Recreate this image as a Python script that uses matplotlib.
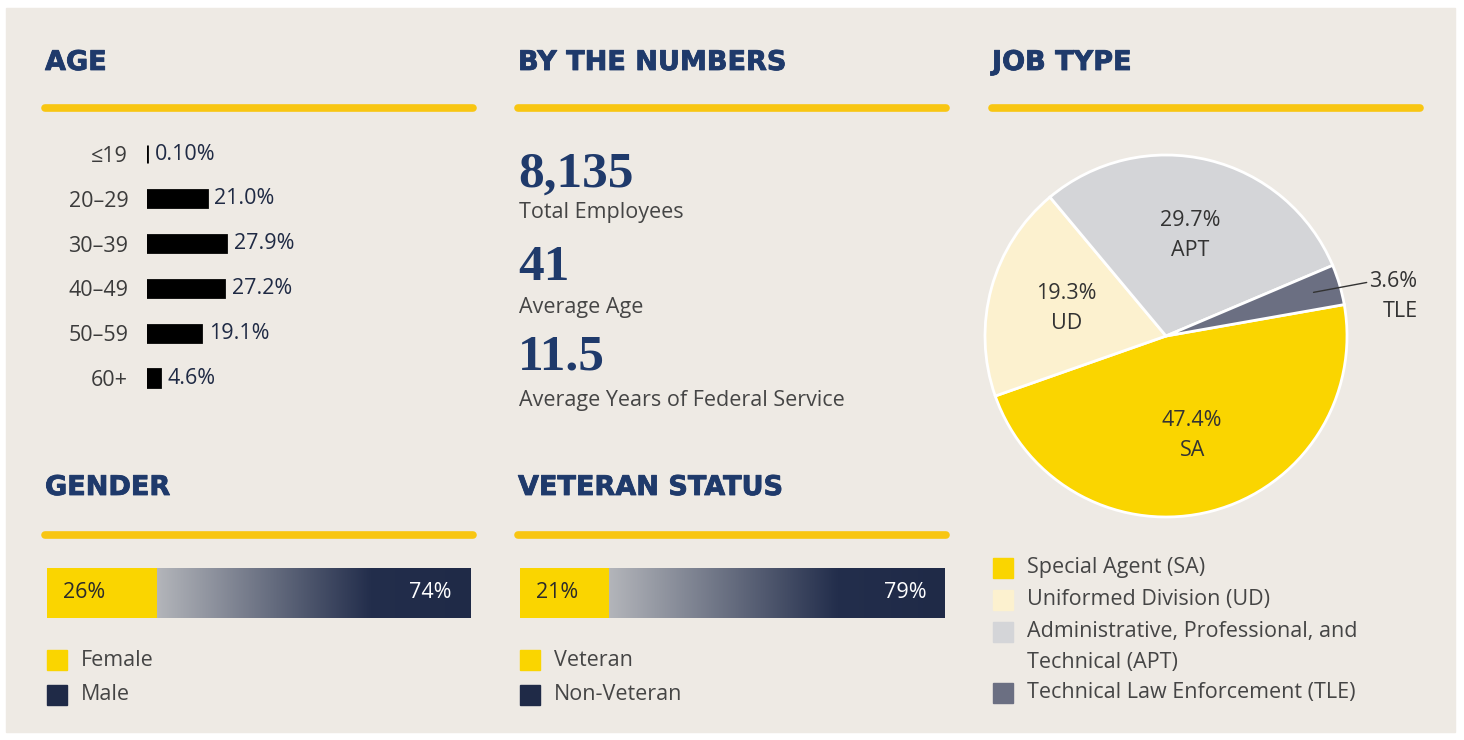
import matplotlib.pyplot as plt
import matplotlib.patheffects as pe
import numpy as np
from matplotlib.colors import LinearSegmentedColormap
from matplotlib.patches import Rectangle

W, H = 1464, 740

# data
age_groups = ["≤19", "20–29", "30–39", "40–49", "50–59", "60+"]
age_share = [0.10, 21.0, 27.9, 27.2, 19.1, 4.6]
age_labels = ["0.10%", "21.0%", "27.9%", "27.2%", "19.1%", "4.6%"]

stat_values = ["8,135", "41", "11.5"]
stat_names = ["Total Employees", "Average Age", "Average Years of Federal Service"]

gender_names = ["Female", "Male"]
gender_share = [26, 74]
veteran_names = ["Veteran", "Non-Veteran"]
veteran_share = [21, 79]

job_codes = ["SA", "UD", "APT", "TLE"]
job_names = ["Special Agent (SA)", "Uniformed Division (UD)",
             "Administrative, Professional, and\nTechnical (APT)",
             "Technical Law Enforcement (TLE)"]
job_share = [47.4, 19.3, 29.7, 3.6]

# colours
PANEL = "#EEEAE4"
NAVY = "#1F3A6B"
RULE = "#F8C612"
YELLOW = "#FAD500"
DARK = "#1F2A47"
GREY_TXT = "#454545"
job_colors = ["#FAD500", "#FCF1CF", "#D4D5D8", "#6B6F82"]

BODY = ["Open Sans", "DejaVu Sans"]
HEAD = "DejaVu Sans"
FS = 15.5

plt.rcParams["font.family"] = BODY

fig = plt.figure(figsize=(W / 100, H / 100), dpi=100, facecolor="white")


def px_axes(x0, y0, x1, y1):
    return fig.add_axes([x0 / W, 1 - y1 / H, (x1 - x0) / W, (y1 - y0) / H])


bg = fig.add_axes([0, 0, 1, 1])
bg.set_xlim(0, W)
bg.set_ylim(H, 0)
bg.axis("off")
bg.add_patch(Rectangle((6, 8), 1449, 724, color=PANEL, zorder=0))

# section headers and yellow rules
headers = [("AGE", 45, 63, 108), ("BY THE NUMBERS", 518, 63, 108), ("JOB TYPE", 992, 63, 108),
           ("GENDER", 45, 488, 535), ("VETERAN STATUS", 518, 488, 535)]
for title, x, y, ry in headers:
    bg.text(x, y, title, ha="left", va="center", fontsize=19.5, fontweight="bold",
            color=NAVY, family=HEAD,
            path_effects=[pe.withStroke(linewidth=0.6, foreground=NAVY)])
    bg.plot([x, x + 428], [ry, ry], color=RULE, lw=5.5, solid_capstyle="round")

# by the numbers
num_y = [187, 280, 370]
name_y = [218, 313, 406]
for val, name, vy, ny in zip(stat_values, stat_names, num_y, name_y):
    bg.text(518, vy, val, ha="left", va="baseline", fontsize=37, fontweight="bold",
            color=NAVY, family="Liberation Serif")
    bg.text(519, ny, name, ha="left", va="baseline", fontsize=FS, color=GREY_TXT)

# age bars
ax = px_axes(147, 131.6, 232, 400.4)
ypos = np.arange(len(age_groups))
ax.barh(ypos, age_share, height=0.38, color="black", edgecolor="black", lw=2)
for y, v, lbl in zip(ypos, age_share, age_labels):
    ax.annotate(lbl, (v, y), xytext=(5.5, 0), textcoords="offset points",
                va="center", ha="left", fontsize=FS, color="#1F2A44")
ax.set_xlim(0, 30)
ax.set_ylim(len(age_groups) - 0.5, -0.5)
ax.set_yticks(ypos, age_groups)
ax.tick_params(axis="y", length=0, pad=13.5, labelsize=FS, labelcolor="#3B3B3B")
ax.set_xticks([])
for s in ax.spines.values():
    s.set_visible(False)
ax.patch.set_alpha(0)

# stacked gradient bars
grad_cmap = LinearSegmentedColormap.from_list(
    "grad", [(0, "#B3B5BA"), (0.68, "#232E4C"), (1, DARK)])


def split_bar(box, shares, names, lx, ly):
    bax = px_axes(*box)
    bax.barh(0.5, shares[0], height=1, color=YELLOW)
    rest = bax.barh(0.5, shares[1], left=shares[0], height=1, color="none")[0]
    im = bax.imshow(np.linspace(0, 1, 256)[None, :], extent=(shares[0], 100, 0, 1),
                    cmap=grad_cmap, aspect="auto")
    im.set_clip_path(rest)
    bax.set_xlim(0, 100)
    bax.set_ylim(0, 1)
    bax.axis("off")
    bax.annotate(f"{shares[0]}%", (0, 0.5), xytext=(11.5, 0), textcoords="offset points",
                 ha="left", va="center", fontsize=FS, color="#2B2B2B")
    bax.annotate(f"{shares[1]}%", (100, 0.5), xytext=(-13, 0), textcoords="offset points",
                 ha="right", va="center", fontsize=FS, color="white")
    for i, (name, col) in enumerate(zip(names, [YELLOW, DARK])):
        y = ly + i * 35
        bg.add_patch(Rectangle((lx, y - 10), 20, 20, color=col))
        bg.text(lx + 34, y, name, ha="left", va="center", fontsize=FS, color=GREY_TXT)


split_bar((47, 568, 470, 618), gender_share, gender_names, 47, 660)
split_bar((520, 568, 945, 618), veteran_share, veteran_names, 520, 660)

# job type pie
pax = px_axes(985, 155, 1347, 517)
wedges, _ = pax.pie(job_share, colors=job_colors, startangle=10, counterclock=False,
                    wedgeprops=dict(edgecolor="white", linewidth=2))
pax.set_xlim(-1, 1)
pax.set_ylim(-1, 1)
for w, share, code in zip(wedges, job_share, job_codes):
    ang = np.deg2rad((w.theta1 + w.theta2) / 2)
    if share > 10:
        r = 0.57
        pax.text(r * np.cos(ang), r * np.sin(ang), f"{share}%\n{code}", ha="center",
                 va="center", fontsize=FS, color="#333333", linespacing=1.55)
    else:
        pax.annotate(f"{share}%\n{code}", xy=(0.85 * np.cos(ang), 0.85 * np.sin(ang)),
                     xytext=(1.39, 0.22), ha="right", va="center", multialignment="right",
                     fontsize=FS, color="#333333", linespacing=1.55,
                     arrowprops=dict(arrowstyle="-", color="#333333", lw=1,
                                     relpos=(0, 0.78), shrinkA=0, shrinkB=0))

# job type legend
leg_y = [568, 600, 632, 693]
for y, name, col in zip(leg_y, job_names, job_colors):
    bg.add_patch(Rectangle((993, y - 10), 20, 20, color=col))
    bg.text(1027, y - 11, name, ha="left", va="top", fontsize=FS, color=GREY_TXT,
            linespacing=1.6)

fig.savefig("out.png", dpi=100, facecolor="white")
